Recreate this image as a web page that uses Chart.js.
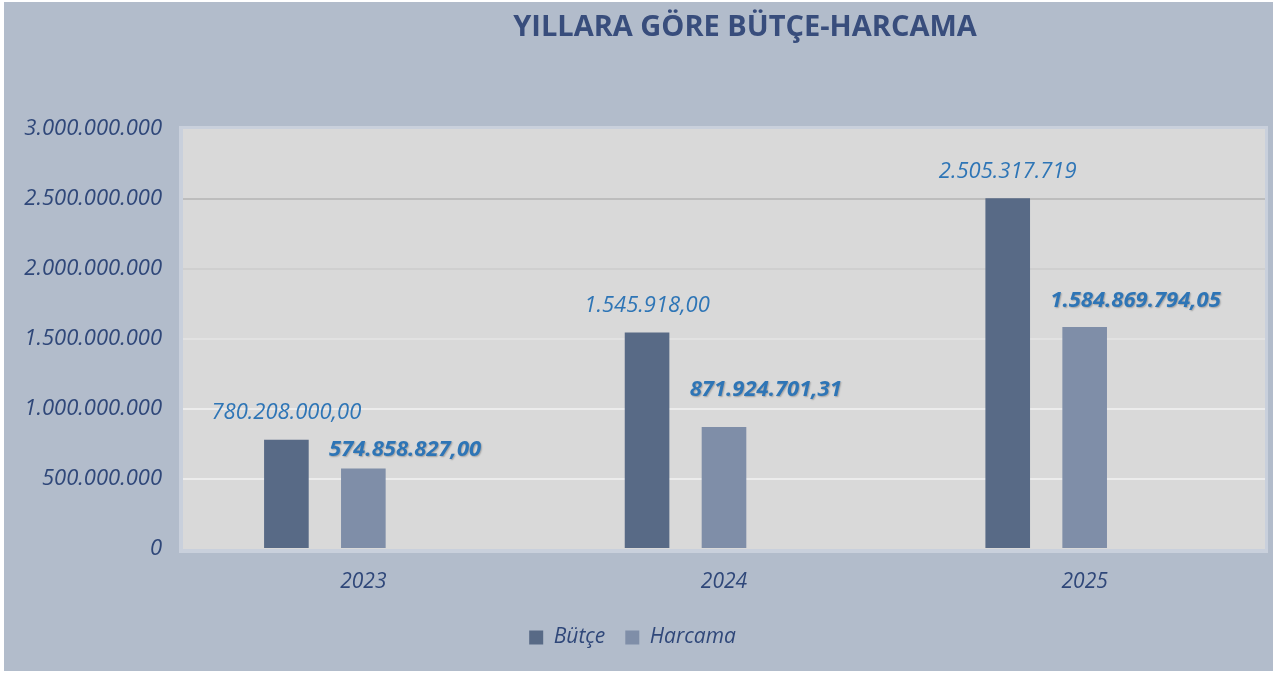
<!DOCTYPE html>
<html>
<head>
<meta charset="utf-8">
<script src="https://cdn.jsdelivr.net/npm/chart.js@4"></script>
<style>
    html, body { margin: 0; padding: 0; background: #ffffff; }
    #grafico-wrap { width: 1277px; height: 673px; }
</style>
</head>
<body>
<div id="grafico-wrap"><canvas id="grafico-butce"></canvas></div>
<script>
const yillar = ["2023", "2024", "2025"];
const butce = [780208000, 1545918000, 2505317719];
const harcama = [574858827, 871924701.31, 1584869794.05];
const etiketButce = ["780.208.000,00", "1.545.918,00", "2.505.317.719"];
const etiketHarcama = ["574.858.827,00", "871.924.701,31", "1.584.869.794,05"];
const eksenEtiketleri = ["0", "500.000.000", "1.000.000.000", "1.500.000.000", "2.000.000.000", "2.500.000.000", "3.000.000.000"];

const yazi = "'Open Sans', 'Noto Sans', sans-serif";
const lacivert = "#2f4779";

// arka plan, çizim alanı ve başlık
const zeminEklentisi = {
    id: "zemin",
    beforeDraw: (chart) => {
        const ctx = chart.ctx;
        const a = chart.chartArea;
        ctx.save();
        ctx.fillStyle = "#b2bccb";
        ctx.fillRect(4, 2, chart.width - 8, chart.height - 4);
        ctx.fillStyle = "#c9d0dc";
        ctx.fillRect(a.left - 4, a.top - 3, a.right - a.left + 7, a.bottom - a.top + 7);
        ctx.fillStyle = "#d9d9d9";
        ctx.fillRect(a.left, a.top, a.right - a.left, a.bottom - a.top);
        ctx.restore();
    },
    afterDraw: (chart) => {
        const ctx = chart.ctx;
        ctx.save();
        ctx.font = "bold 29px " + yazi;
        ctx.fillStyle = "#384d7c";
        ctx.textAlign = "center";
        ctx.textBaseline = "middle";
        ctx.fillText("YILLARA GÖRE BÜTÇE-HARCAMA", 745, 28);
        ctx.restore();
    },
};

// çubuk üstü değer etiketleri
const etiketEklentisi = {
    id: "etiketler",
    afterDatasetsDraw: (chart) => {
        const ctx = chart.ctx;
        ctx.save();
        ctx.fillStyle = "#2e75b6";
        ctx.textBaseline = "middle";

        chart.getDatasetMeta(0).data.forEach((bar, i) => {
            ctx.font = "italic 22px " + yazi;
            ctx.textAlign = "center";
            ctx.fillText(etiketButce[i], bar.x, bar.y - 27);
        });

        const ekY = [19, 37, 26];
        chart.getDatasetMeta(1).data.forEach((bar, i) => {
            ctx.font = "italic bold 22px " + yazi;
            ctx.textAlign = "left";
            ctx.shadowColor = "rgba(0,0,0,0.25)";
            ctx.shadowOffsetX = 1;
            ctx.shadowOffsetY = 1;
            ctx.shadowBlur = 1.5;
            ctx.fillText(etiketHarcama[i], bar.x - bar.width / 2 - 12, bar.y - ekY[i]);
        });
        ctx.restore();
    },
};

const gridRengi = ["rgba(0,0,0,0)", "#ececec", "#ececec", "#e2e2e2", "#cfcfcf", "#bdbdbd", "rgba(0,0,0,0)"];

new Chart(document.getElementById("grafico-butce").getContext("2d"), {
    type: "bar",
    data: {
        labels: yillar,
        datasets: [
            {
                label: "Bütçe",
                data: butce,
                backgroundColor: "#586a86",
                barPercentage: 0.58,
                categoryPercentage: 0.64,
            },
            {
                label: "Harcama",
                data: harcama,
                backgroundColor: "#7f8ea8",
                barPercentage: 0.58,
                categoryPercentage: 0.64,
            },
            {
                label: "",
                data: [null, null, null],
                backgroundColor: "rgba(0,0,0,0)",
                barPercentage: 0.58,
                categoryPercentage: 0.64,
            },
        ],
    },
    options: {
        responsive: true,
        maintainAspectRatio: false,
        animation: false,
        layout: {
            padding: { top: 129, left: 0, right: 12, bottom: 15 },
        },
        plugins: {
            title: { display: false },
            tooltip: { enabled: false },
            legend: {
                position: "bottom",
                labels: {
                    filter: (item) => item.text !== "",
                    font: { family: yazi, size: 21, style: "italic" },
                    color: lacivert,
                    boxWidth: 14,
                    boxHeight: 14,
                    padding: 20,
                },
            },
        },
        scales: {
            x: {
                grid: { display: false, drawTicks: false },
                border: { display: false },
                ticks: {
                    padding: 20,
                    font: { family: yazi, size: 21, style: "italic" },
                    color: lacivert,
                },
                afterFit: (scale) => {
                    scale.height = 58;
                },
            },
            y: {
                min: 0,
                max: 3000000000,
                grid: {
                    drawTicks: false,
                    lineWidth: 2,
                    color: (c) => gridRengi[c.index] || "#ececec",
                },
                border: { display: false },
                ticks: {
                    stepSize: 500000000,
                    padding: 21,
                    font: { family: yazi, size: 22, style: "italic" },
                    color: lacivert,
                    callback: (v, i) => eksenEtiketleri[i],
                },
                afterFit: (scale) => {
                    scale.width = 183;
                },
            },
        },
    },
    plugins: [zeminEklentisi, etiketEklentisi],
});
</script>
</body>
</html>
